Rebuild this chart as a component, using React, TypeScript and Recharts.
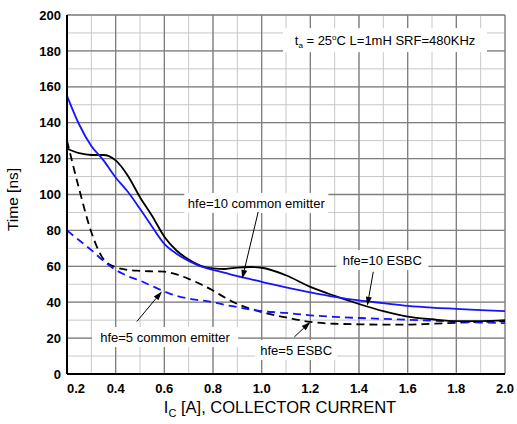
import React from 'react';
import {
  LineChart, Line, XAxis, YAxis, CartesianGrid, ReferenceLine, ReferenceDot,
} from 'recharts';

// collector current, A
const current = [
  0.2, 0.25, 0.3, 0.35, 0.4, 0.45, 0.5, 0.55, 0.6, 0.65, 0.7, 0.75, 0.8, 0.85,
  0.9, 0.95, 1.0, 1.1, 1.2, 1.3, 1.4, 1.5, 1.6, 1.7, 1.8, 1.9, 2.0,
];
// time, ns
const hfe10Common = [
  155, 139, 127, 119, 109.5, 101.5, 92, 82, 72.5, 67, 63, 60, 58, 56.3,
  54.5, 53, 51.3, 48.3, 45.5, 43, 41, 39.5, 38, 37, 36.3, 35.6, 35,
];
const hfe10Esbc = [
  125.5, 123, 122, 122, 119, 110.5, 98.5, 88, 76.5, 68.8, 63.8, 60.3, 58.8, 58.5,
  59.3, 59.6, 59.2, 55, 48.5, 43.5, 39, 35, 32, 30.5, 29.5, 29.5, 30,
];
const hfe5Common = [
  80, 74.5, 69, 63, 58, 54.5, 52, 49, 46, 43.5, 42, 41, 40, 38.5,
  37.3, 36, 35, 34, 32.7, 31.8, 31.2, 30.7, 30.2, 29.7, 29.2, 28.7, 28.3,
];
const hfe5Esbc = [
  130, 103, 79, 64, 59.5, 58, 57.5, 57.2, 57, 55.5, 53, 50, 46.5, 42.5,
  39, 36.5, 34.5, 31.5, 29, 28, 27.7, 27.5, 27.5, 28, 28.5, 29, 29.5,
];

// every tick gets a light grid line, the labelled ones a darker one
const xTicks = [0.2, 0.3, 0.4, 0.5, 0.6, 0.7, 0.8, 0.9, 1.0, 1.1, 1.2, 1.3, 1.4, 1.5, 1.6, 1.7, 1.8, 1.9, 2.0];
const xMajor = [0.4, 0.6, 0.8, 1.0, 1.2, 1.4, 1.6, 1.8, 2.0];
const yTicks = [0, 10, 20, 30, 40, 50, 60, 70, 80, 90, 100, 110, 120, 130, 140, 150, 160, 170, 180, 190, 200];
const yMajor = [20, 40, 60, 80, 100, 120, 140, 160, 180, 200];

const data = current.map((ic, i) => ({
  ic,
  ce10: hfe10Common[i],
  esbc10: hfe10Esbc[i],
  ce5: hfe5Common[i],
  esbc5: hfe5Esbc[i],
}));

// callouts: label spot and arrow tip in data units, arrow tail as a pixel offset from the tip
const notes = [
  { text: 'hfe=10 common emitter', at: [0.978, 95.3], box: 144, tip: [0.92, 53], tail: [16, -67] },
  { text: 'hfe=10 ESBC', at: [1.496, 63.5], box: 92, tip: [1.434, 38], tail: [6, -34] },
  { text: 'hfe=5 common emitter', at: [0.603, 20.6], box: 146, tip: [0.59, 46], tail: [-25, 30] },
  { text: 'hfe=5 ESBC', at: [1.142, 13.4], box: 82, tip: [1.2, 29], tail: [-16, 15] },
];

const FONT = 'Arial, "Liberation Sans", sans-serif';
const MINOR = '#c8c8c8';
const MAJOR = '#7f7f7f';

function XTick({ x, y, payload }: any) {
  const v = payload.value as number;
  if (Math.round(v * 10) % 2 !== 0) return <g />;
  const first = Math.abs(v - 0.2) < 1e-6;
  return (
    <text x={x} y={y} dy="0.71em" textAnchor={first ? 'start' : 'middle'}
      fontSize={13} fontWeight="bold" fontFamily={FONT} fill="#000">
      {v.toFixed(1)}
    </text>
  );
}

function YTick({ x, y, payload }: any) {
  const v = payload.value as number;
  if (v % 20 !== 0) return <g />;
  return (
    <text x={x} y={y} dy="0.36em" textAnchor="end"
      fontSize={13} fontWeight="bold" fontFamily={FONT} fill="#000">
      {v}
    </text>
  );
}

function ArrowTo(dx: number, dy: number) {
  return (p: any) => {
    const x2 = p.cx, y2 = p.cy;
    const x1 = x2 + dx, y1 = y2 + dy;
    const a = Math.atan2(y2 - y1, x2 - x1);
    const len = 9, half = 3;
    const bx = x2 - len * Math.cos(a), by = y2 - len * Math.sin(a);
    const px = -Math.sin(a) * half, py = Math.cos(a) * half;
    return (
      <g>
        <line x1={x1} y1={y1} x2={bx} y2={by} stroke="#000" strokeWidth={1} />
        <polygon points={`${x2},${y2} ${bx + px},${by + py} ${bx - px},${by - py}`} fill="#000" />
      </g>
    );
  };
}

function NoteLabel(text: string, box: number) {
  return (p: any) => (
    <g>
      <rect x={p.cx - box / 2} y={p.cy - 10} width={box} height={20} fill="#fff" />
      <text x={p.cx} y={p.cy} dy="0.36em" textAnchor="middle" fontSize={13} fontFamily={FONT} fill="#000">
        {text}
      </text>
    </g>
  );
}

function Header(p: any) {
  return (
    <g>
      <rect x={p.cx - 102} y={p.cy - 12} width={204} height={24} fill="#fff" />
      <text x={p.cx} y={p.cy} dy="0.36em" textAnchor="middle" fontSize={13} fontFamily={FONT} fill="#000">
        <tspan>t</tspan>
        <tspan fontSize={8} dy={3}>a</tspan>
        <tspan dy={-3}> = 25</tspan>
        <tspan fontSize={8} dy={-5}>o</tspan>
        <tspan dy={5}>C L=1mH SRF=480KHz</tspan>
      </text>
    </g>
  );
}

const xLabel = (p: any) => {
  const vb = p.viewBox;
  return (
    <text x={vb.x + vb.width / 2 - 6} y={vb.y + 39} textAnchor="middle" fontSize={16.5} fontFamily={FONT} fill="#000">
      I<tspan fontSize={11} dy={4}>C</tspan><tspan dy={-4}> [A], COLLECTOR CURRENT</tspan>
    </text>
  );
};

const yLabel = (p: any) => {
  const vb = p.viewBox;
  const cx = vb.x + 18;
  const cy = vb.y + vb.height / 2 + 5;
  return (
    <text x={cx} y={cy} transform={`rotate(-90 ${cx} ${cy})`} textAnchor="middle" fontSize={15.5} fontFamily={FONT} fill="#000">
      Time [ns]
    </text>
  );
};

export default function App() {
  return (
    <div style={{ position: 'absolute', left: 0, top: 0, width: 517, height: 424, background: '#fff' }}>
      <LineChart width={517} height={424} data={data} margin={{ top: 15, right: 12, bottom: 0, left: 0 }}>
        <CartesianGrid stroke={MINOR} strokeWidth={1} />
        <XAxis dataKey="ic" type="number" domain={[0.2, 2.0]} ticks={xTicks} interval={0}
          height={50} tickLine={false} tickSize={0} tickMargin={10}
          axisLine={{ stroke: '#000', strokeWidth: 2 }} tick={<XTick />} label={xLabel} />
        <YAxis type="number" domain={[0, 200]} ticks={yTicks} interval={0}
          width={67} tickLine={false} tickSize={0} tickMargin={6}
          axisLine={{ stroke: '#000', strokeWidth: 2 }} tick={<YTick />} label={yLabel} />

        {xMajor.map(v => <ReferenceLine key={'gx' + v} x={v} stroke={MAJOR} strokeWidth={1.3} />)}
        {yMajor.map(v => <ReferenceLine key={'gy' + v} y={v} stroke={MAJOR} strokeWidth={1.3} />)}

        <ReferenceDot x={1.507} y={186} r={0} shape={Header} />
        {notes.map(n => (
          <ReferenceDot key={n.text} x={n.at[0]} y={n.at[1]} r={0} shape={NoteLabel(n.text, n.box)} />
        ))}

        <Line type="monotone" dataKey="esbc5" stroke="#000" strokeWidth={1.8} strokeDasharray="8 5"
          dot={false} isAnimationActive={false} />
        <Line type="monotone" dataKey="ce5" stroke="#1414ff" strokeWidth={1.8} strokeDasharray="8 5"
          dot={false} isAnimationActive={false} />
        <Line type="monotone" dataKey="esbc10" stroke="#000" strokeWidth={1.8}
          dot={false} isAnimationActive={false} />
        <Line type="monotone" dataKey="ce10" stroke="#1414ff" strokeWidth={1.8}
          dot={false} isAnimationActive={false} />

        {notes.map(n => (
          <ReferenceDot key={n.text + '-arrow'} x={n.tip[0]} y={n.tip[1]} r={0}
            shape={ArrowTo(n.tail[0], n.tail[1])} />
        ))}
      </LineChart>
    </div>
  );
}
